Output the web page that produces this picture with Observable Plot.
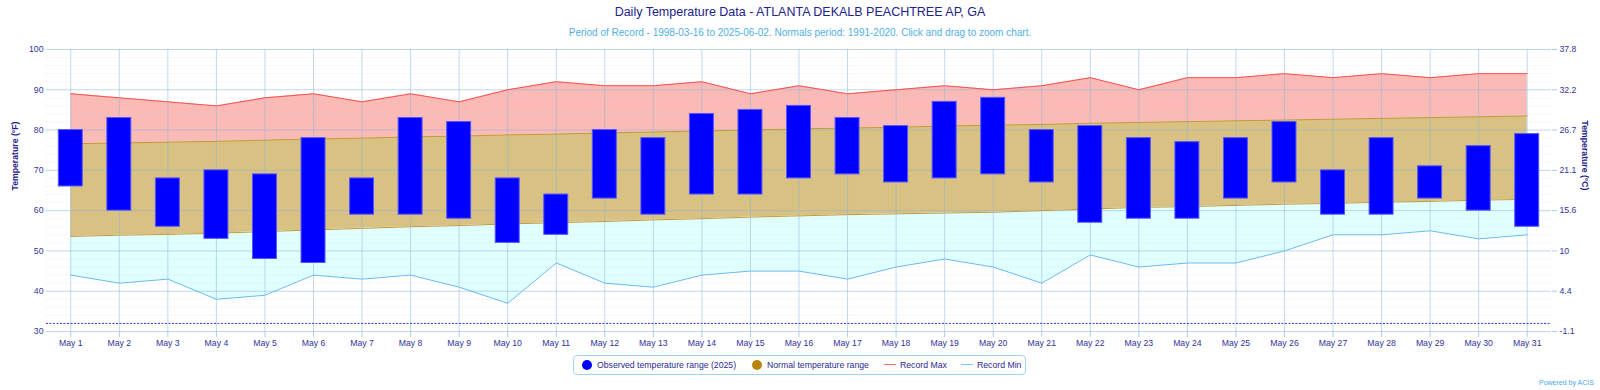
<!DOCTYPE html>
<html>
<head>
<meta charset="utf-8">
<script src="https://cdn.jsdelivr.net/npm/d3@7"></script>
<script src="https://cdn.jsdelivr.net/npm/@observablehq/plot@0.6"></script>
<style>
  html, body { margin: 0; padding: 0; background: #fff; }
  body { font-family: "Liberation Sans", Arial, sans-serif; }
  #wrap { position: relative; width: 1600px; height: 390px; overflow: hidden; }
  #title { position: absolute; top: 5px; left: 0; width: 1600px; text-align: center;
           font-size: 12.5px; line-height: 15px; color: #22228c; }
  #subtitle { position: absolute; top: 27px; left: 0; width: 1600px; text-align: center;
              font-size: 10px; line-height: 12px; color: #4fb0e8; }
  #chart { position: absolute; top: 40px; left: 0; }
  #legend { position: absolute; left: 573px; top: 355px; width: 453px; height: 20px;
            box-sizing: border-box; border: 1.5px solid #a3d2f5; border-radius: 4px;
            font-size: 8.7px; color: #2a2a90; }
  .li { display: flex; align-items: center; position: absolute; top: 0; height: 17px; white-space: nowrap; }
  .dot { width: 10px; height: 10px; border-radius: 50%; margin-right: 5px; }
  .ln { width: 12px; height: 1.5px; margin-right: 4px; }
  #powered { position: absolute; left: 1539px; top: 379px; font-size: 7px; color: #4aa8e8; white-space: nowrap; }
</style>
</head>
<body>
<div id="wrap">
  <div id="title">Daily Temperature Data - ATLANTA DEKALB PEACHTREE AP, GA</div>
  <div id="subtitle">Period of Record - 1998-03-16 to 2025-06-02. Normals period: 1991-2020. Click and drag to zoom chart.</div>
  <div id="chart"></div>
  <div id="legend">
    <div class="li" style="left:8px"><div class="dot" style="background:#0000ff"></div>Observed temperature range (2025)</div>
    <div class="li" style="left:178px"><div class="dot" style="background:#b8860b"></div>Normal temperature range</div>
    <div class="li" style="left:310px"><div class="ln" style="background:#ff6b6b"></div>Record Max</div>
    <div class="li" style="left:387px"><div class="ln" style="background:#7cc4f5"></div>Record Min</div>
  </div>
  <div id="powered">Powered by ACIS</div>
</div>
<script>
const days = ["May 1","May 2","May 3","May 4","May 5","May 6","May 7","May 8","May 9","May 10",
  "May 11","May 12","May 13","May 14","May 15","May 16","May 17","May 18","May 19","May 20",
  "May 21","May 22","May 23","May 24","May 25","May 26","May 27","May 28","May 29","May 30","May 31"];

const obsHigh = [80,83,68,70,69,78,68,83,82,68,64,80,78,84,85,86,83,81,87,88,80,81,78,77,78,82,70,78,71,76,79];
const obsLow  = [66,60,56,53,48,47,59,59,58,52,54,63,59,64,64,68,69,67,68,69,67,57,58,58,63,67,59,59,63,60,56];

const normalMax = [76.6,76.8,77.0,77.2,77.5,77.8,78.0,78.3,78.5,78.8,79.0,79.3,79.5,79.8,80.0,80.3,
  80.5,80.7,81.0,81.2,81.4,81.7,81.9,82.1,82.3,82.5,82.7,82.9,83.1,83.3,83.5];
const normalMin = [53.6,53.9,54.1,54.4,54.8,55.2,55.6,56.0,56.3,56.7,57.0,57.3,57.7,58.0,58.4,58.7,
  59.0,59.2,59.4,59.6,60.0,60.4,60.8,61.0,61.3,61.6,61.8,62.1,62.3,62.6,62.8];

const recordMax = [89,88,87,86,88,89,87,89,87,90,92,91,91,92,89,91,89,90,91,90,91,93,90,93,93,94,93,94,93,94,94];
const recordMin = [44,42,43,38,39,44,43,44,41,37,47,42,41,44,45,45,43,46,48,46,42,49,46,47,47,50,54,54,55,53,54];

const fTicks = [30,40,50,60,70,80,90,100];
const cTickLabels = ["-1.1","4.4","10","15.6","21.1","26.7","32.2","37.8"];
const minorTicks = [32,34,36,38,42,44,46,48,52,54,56,58,62,64,66,68,72,74,76,78,82,84,86,88,92,94,96,98];
const freezing = [32];

const rows = days.map((d, i) => ({
  day: d, high: obsHigh[i], low: obsLow[i],
  nmax: normalMax[i], nmin: normalMin[i], rmax: recordMax[i], rmin: recordMin[i]
}));

const navy = "#33339a";
const chart = Plot.plot({
  width: 1600,
  height: 305,
  marginTop: 9,
  marginBottom: 14,
  marginLeft: 46,
  marginRight: 49,
  style: {fontFamily: "'Liberation Sans', Arial, sans-serif", fontSize: "8.7px", color: navy, background: "transparent", overflow: "visible"},
  x: {type: "band", domain: days, padding: 0, round: false},
  y: {domain: [30, 100]},
  marks: [
    // filled bands
    Plot.areaY(rows, {x: "day", y1: "nmax", y2: "rmax", fill: "#fbbab5"}),
    Plot.areaY(rows, {x: "day", y1: "nmin", y2: "nmax", fill: "#d9c182"}),
    Plot.areaY(rows, {x: "day", y1: "rmin", y2: "nmin", fill: "#e0ffff"}),
    // grids
    Plot.gridY({ticks: minorTicks, stroke: "#d4d4d4", strokeOpacity: 0.7, strokeDasharray: "1,3"}),
    Plot.gridY({ticks: fTicks, stroke: "#8ab4dc", strokeOpacity: 0.55, strokeWidth: 1}),
    Plot.gridX({stroke: "#8ab4dc", strokeOpacity: 0.5, strokeWidth: 1}),
    // boundary lines
    Plot.lineY(rows, {x: "day", y: "nmax", stroke: "#c49a3a", strokeWidth: 1}),
    Plot.lineY(rows, {x: "day", y: "nmin", stroke: "#c49a3a", strokeWidth: 1}),
    Plot.lineY(rows, {x: "day", y: "rmax", stroke: "#ff4f4f", strokeWidth: 1}),
    Plot.lineY(rows, {x: "day", y: "rmin", stroke: "#66bbf3", strokeWidth: 1}),
    // freezing line
    Plot.ruleY(freezing, {stroke: "#3a3adf", strokeWidth: 1, strokeDasharray: "2,1.5"}),
    // observed bars
    Plot.barY(rows, {x: "day", y1: "low", y2: "high", fill: "#0000ff", stroke: "#5555ff", strokeWidth: 1, insetLeft: 12.3, insetRight: 12.3}),
    // axes
    Plot.axisX({tickSize: 6, tickPadding: 2, stroke: "#a9cdec", fill: navy, label: null}),
    Plot.axisY({anchor: "left", ticks: fTicks, tickSize: 0, tickPadding: 3, fill: navy, label: null}),
    Plot.axisY({anchor: "right", ticks: fTicks, tickSize: 5, tickPadding: 3, stroke: "#a9cdec", fill: navy, label: null,
      tickFormat: d => cTickLabels[fTicks.indexOf(d)]}),
    // axis titles
    Plot.text(["Temperature (°F)"], {text: d => d, frameAnchor: "left", dx: -31, rotate: -90, fontWeight: "bold", fontSize: 8.7, fill: "#22228c"}),
    Plot.text(["Temperature (°C)"], {text: d => d, frameAnchor: "right", dx: 33, rotate: 90, fontWeight: "bold", fontSize: 8.7, fill: "#22228c"})
  ]
});
document.getElementById("chart").appendChild(chart);
</script>
</body>
</html>
